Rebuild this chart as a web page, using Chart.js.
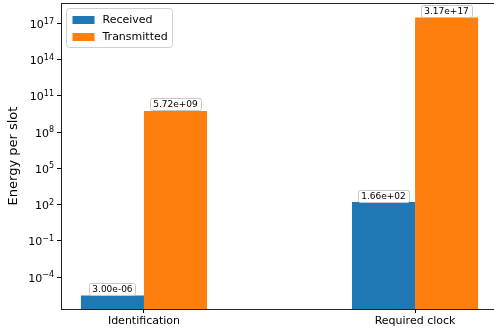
<!DOCTYPE html>
<html>
<head>
<meta charset="utf-8">
<style>
  html, body { margin: 0; padding: 0; background: #fff; overflow: hidden; }
  #wrap { width: 500px; height: 334px; }
</style>
</head>
<body>
<div id="wrap"><canvas id="myChart" width="500" height="334"></canvas></div>
<script src="https://cdn.jsdelivr.net/npm/chart.js"></script>
<script>
  // data
  const categories = ["Identification", "Required clock"];
  const received = [3.0e-6, 1.66e2];
  const transmitted = [5.72e9, 3.17e17];
  const tickExponents = [-4, -1, 2, 5, 8, 11, 14, 17];

  const FONT = "'DejaVu Sans', sans-serif";

  function sci(v) {
    const [m, e] = v.toExponential(2).split("e");
    const n = parseInt(e, 10);
    return m + "e" + (n < 0 ? "-" : "+") + String(Math.abs(n)).padStart(2, "0");
  }

  const valueLabels = {
    id: "valueLabels",
    afterDatasetsDraw(chart) {
      const { ctx } = chart;
      ctx.save();
      ctx.font = "9px " + FONT;
      ctx.textAlign = "center";
      ctx.textBaseline = "middle";
      chart.data.datasets.forEach((ds, i) => {
        chart.getDatasetMeta(i).data.forEach((bar, j) => {
          const txt = sci(ds.data[j].y);
          const w = ctx.measureText(txt).width + 6;
          const h = 12;
          const x = bar.x - w / 2;
          const y = bar.y - h - 0.5;
          ctx.fillStyle = "rgba(255,255,255,0.9)";
          ctx.strokeStyle = "#c8c8c8";
          ctx.lineWidth = 1;
          ctx.beginPath();
          ctx.roundRect(Math.round(x) + 0.5, Math.round(y) + 0.5, Math.round(w), h, 2);
          ctx.fill();
          ctx.stroke();
          ctx.fillStyle = "#000";
          ctx.fillText(txt, bar.x, Math.round(y) + h / 2 + 1);
        });
      });
      ctx.restore();
    },
  };

  // y tick labels as 10 with a raised exponent, like mathtext
  const powLabels = {
    id: "powLabels",
    afterDraw(chart) {
      const { ctx } = chart;
      const s = chart.scales.y;
      ctx.save();
      ctx.fillStyle = "#000";
      ctx.textBaseline = "alphabetic";
      ctx.textAlign = "left";
      s.ticks.forEach((t) => {
        const e = String(Math.round(Math.log10(t.value))).replace("-", "\u2212");
        const py = s.getPixelForValue(t.value);
        ctx.font = "8px " + FONT;
        const we = ctx.measureText(e).width;
        ctx.font = "11px " + FONT;
        const wb = ctx.measureText("10").width;
        const right = s.right - 7;
        const x0 = right - we - wb;
        ctx.fillText("10", x0, py + 4.5);
        ctx.font = "8px " + FONT;
        ctx.fillText(e, x0 + wb, py);
      });
      ctx.restore();
    },
  };

  const frame = {
    id: "frame",
    afterDraw(chart) {
      const { ctx, chartArea: a } = chart;
      ctx.save();
      ctx.strokeStyle = "#222";
      ctx.lineWidth = 1;
      ctx.strokeRect(Math.round(a.left) + 0.5, Math.round(a.top) + 0.5,
        Math.round(a.right - a.left), Math.round(a.bottom - a.top));
      // legend, upper left
      const bx = a.left + 5.5, by = a.top + 5.5, bw = 106, bh = 39;
      ctx.fillStyle = "rgba(255,255,255,0.8)";
      ctx.strokeStyle = "#d0d0d0";
      ctx.beginPath();
      ctx.roundRect(bx, by, bw, bh, 3);
      ctx.fill();
      ctx.stroke();
      ctx.font = "11px " + FONT;
      ctx.textBaseline = "middle";
      ctx.textAlign = "left";
      chart.data.datasets.forEach((ds, i) => {
        const cy = by + 11.5 + i * 17;
        ctx.fillStyle = ds.backgroundColor;
        ctx.fillRect(bx + 6, cy - 4, 22, 8);
        ctx.fillStyle = "#000";
        ctx.fillText(ds.label, bx + 36, cy + 0.5);
      });
      ctx.restore();
    },
  };

  const toPoints = (arr) => arr.map((y, i) => ({ x: i, y }));

  new Chart(document.getElementById("myChart"), {
    type: "bar",
    data: {
      datasets: [
        { label: "Received", data: toPoints(received), backgroundColor: "#1f77b4" },
        { label: "Transmitted", data: toPoints(transmitted), backgroundColor: "#ff7f0e" },
      ],
    },
    options: {
      responsive: false,
      animation: false,
      devicePixelRatio: 1,
      categoryPercentage: 0.465,
      barPercentage: 1,
      layout: { padding: { top: 3, right: 2, left: 0, bottom: 0 } },
      plugins: { legend: { display: false }, tooltip: { enabled: false } },
      scales: {
        x: {
          type: "linear",
          min: -0.306,
          max: 1.306,
          offset: false,
          border: { display: false },
          grid: { drawOnChartArea: false, offset: false, tickLength: 4, color: "#000" },
          afterBuildTicks: (s) => { s.ticks = categories.map((c, i) => ({ value: i })); },
          afterFit: (s) => { s.height = 25; s.paddingLeft = 0; s.paddingRight = 0; },
          ticks: {
            autoSkip: false,
            maxRotation: 0,
            padding: 2,
            color: "#000",
            font: { family: FONT, size: 11 },
            callback: (v) => categories[v],
          },
        },
        y: {
          type: "logarithmic",
          min: 2.3e-7,
          max: 5e18,
          border: { display: false },
          grid: { drawOnChartArea: false, tickLength: 4, color: "#000" },
          afterBuildTicks: (s) => { s.ticks = tickExponents.map((e) => ({ value: Math.pow(10, e) })); },
          afterFit: (s) => { s.width = 61; s.paddingTop = 0; s.paddingBottom = 0; },
          title: {
            display: true,
            text: "Energy per slot",
            color: "#000",
            font: { family: FONT, size: 13 },
            padding: { top: 6, bottom: 0 },
          },
          ticks: {
            autoSkip: false,
            padding: 3,
            color: "rgba(0,0,0,0)",
            font: { family: FONT, size: 11 },
            callback: (v) => "10^" + Math.round(Math.log10(v)),
          },
        },
      },
    },
    plugins: [valueLabels, powLabels, frame],
  });
</script>
</body>
</html>
